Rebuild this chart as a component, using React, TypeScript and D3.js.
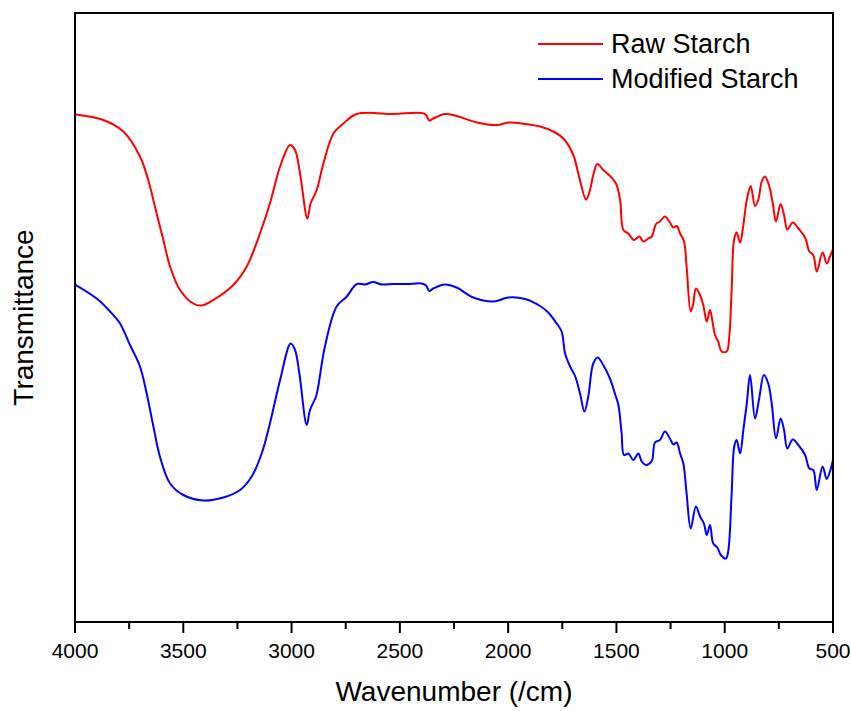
import React from "react";
import * as d3 from "d3";

// Wavenumber (cm^-1) and transmittance (a.u.)
const rawWavenumber = [4000, 3869, 3777, 3700, 3662, 3623, 3592, 3561, 3515, 3454, 3415, 3361, 3269, 3207, 3146, 3100, 3053, 3007, 2984, 2961, 2927, 2912, 2884, 2853, 2807, 2761, 2699, 2530, 2384, 2364, 2346, 2292, 2238, 2145, 2053, 1995, 1922, 1853, 1792, 1745, 1699, 1676, 1640, 1622, 1607, 1588, 1561, 1530, 1502, 1483, 1468, 1445, 1419, 1394, 1376, 1353, 1337, 1317, 1299, 1276, 1253, 1237, 1222, 1206, 1188, 1176, 1157, 1145, 1133, 1117, 1099, 1083, 1068, 1055, 1045, 1030, 1014, 991, 979, 968, 957, 945, 929, 914, 898, 880, 860, 845, 829, 814, 794, 778, 763, 742, 726, 711, 686, 660, 629, 609, 591, 575, 548, 529, 514, 500];
const rawStarch = [101.5, 100.4, 98.1, 93.1, 88.4, 81.7, 76.4, 71.1, 66.4, 63.7, 63.3, 64.4, 67.4, 71.1, 77.7, 83.7, 91.1, 95.4, 94.4, 89.7, 80.7, 83.7, 86.4, 91.7, 97.7, 99.7, 101.6, 101.6, 101.6, 100.3, 100.7, 101.6, 101.2, 99.9, 99.4, 99.9, 99.6, 99.1, 98.1, 96.7, 93.4, 89.7, 84.5, 86.4, 89.4, 91.6, 90.4, 89.2, 87.7, 84.4, 78.4, 77.7, 76.4, 77.1, 76.1, 76.7, 77.1, 79.6, 80.1, 81.1, 79.9, 78.9, 79.2, 77.7, 76.1, 71.1, 62.1, 63.7, 66.7, 65.7, 63.4, 60.1, 62.4, 59.7, 57.4, 56.1, 54.1, 54.1, 57.1, 66.4, 76.4, 77.9, 75.9, 79.4, 84.4, 87.2, 83.2, 84.4, 88.1, 89.1, 87.1, 83.7, 80.1, 83.6, 81.4, 78.5, 79.9, 78.7, 76.9, 74.1, 73.4, 70.1, 73.9, 71.7, 73.1, 74.5];

const modWavenumber = [4000, 3900, 3838, 3792, 3746, 3700, 3669, 3638, 3608, 3561, 3500, 3408, 3315, 3238, 3184, 3138, 3100, 3053, 3004, 2984, 2964, 2930, 2915, 2887, 2877, 2846, 2792, 2745, 2699, 2661, 2623, 2584, 2530, 2468, 2399, 2379, 2364, 2346, 2292, 2238, 2161, 2068, 1999, 1922, 1853, 1815, 1776, 1753, 1737, 1714, 1691, 1668, 1648, 1630, 1607, 1586, 1561, 1530, 1507, 1491, 1476, 1465, 1445, 1422, 1399, 1383, 1364, 1337, 1322, 1299, 1276, 1253, 1237, 1222, 1206, 1191, 1176, 1157, 1133, 1114, 1096, 1083, 1068, 1053, 1034, 1018, 994, 983, 968, 956, 945, 929, 914, 898, 883, 860, 842, 819, 799, 783, 763, 742, 726, 711, 686, 660, 629, 609, 591, 575, 548, 529, 514, 500];
const modifiedStarch = [67.5, 64.7, 62.1, 59.7, 55.4, 51.1, 45.7, 39.1, 33.1, 27.7, 25.4, 24.3, 24.9, 26.4, 29.1, 33.7, 39.7, 48.4, 55.7, 54.4, 49.7, 39.4, 42.4, 45.1, 47.1, 55.1, 63.1, 65.1, 67.6, 67.5, 68.0, 67.5, 67.6, 67.6, 67.7, 67.3, 66.2, 66.7, 67.5, 66.9, 64.9, 64.1, 64.9, 64.6, 63.2, 61.9, 59.7, 58.1, 53.7, 51.1, 49.2, 45.7, 42.1, 45.1, 51.7, 52.9, 51.4, 48.7, 45.7, 43.4, 37.7, 33.4, 33.7, 32.4, 33.7, 32.1, 31.4, 32.2, 35.9, 36.4, 38.1, 36.7, 35.5, 35.9, 33.7, 31.7, 25.7, 18.7, 23.1, 21.1, 19.7, 17.4, 19.4, 15.7, 14.9, 13.4, 12.7, 14.4, 25.7, 35.1, 36.4, 33.7, 38.4, 43.7, 49.4, 40.7, 44.4, 49.4, 47.7, 43.7, 36.7, 40.7, 38.4, 34.7, 36.5, 35.4, 33.4, 30.7, 30.4, 26.4, 31.1, 28.6, 30.1, 32.4];

const xTicks = [4000, 3500, 3000, 2500, 2000, 1500, 1000, 500];
const xMinorTicks = [3750, 3250, 2750, 2250, 1750, 1250, 750];
const seriesNames = ["Raw Starch", "Modified Starch"];
const seriesColors = ["#ff0000", "#0000ff"];

const W = 851;
const H = 711;
const left = 75;
const right = 833;
const top = 13;
const bottom = 622;
const FONT = "'Liberation Sans', Arial, sans-serif";

export default function App() {
  const x = d3.scaleLinear().domain([4000, 500]).range([left, right]);
  const y = d3.scaleLinear().domain([0, 121.8]).range([bottom, top]);

  const line = d3
    .line<[number, number]>()
    .x((d) => x(d[0]))
    .y((d) => y(d[1]))
    .curve(d3.curveCatmullRom.alpha(0.5));

  const series: [number, number][][] = [
    rawWavenumber.map((w, i) => [w, rawStarch[i]] as [number, number]),
    modWavenumber.map((w, i) => [w, modifiedStarch[i]] as [number, number]),
  ];

  return (
    <svg
      width={W}
      height={H}
      style={{ position: "absolute", left: 0, top: 0, background: "#fff" }}
      fontFamily={FONT}
    >
      <rect x={0} y={0} width={W} height={H} fill="#fff" />
      <defs>
        <clipPath id="plotClip">
          <rect x={left} y={top} width={right - left} height={bottom - top} />
        </clipPath>
      </defs>
      <g clipPath="url(#plotClip)">
        {series.map((s, i) => (
          <path
            key={i}
            d={line(s) || ""}
            fill="none"
            stroke={seriesColors[i]}
            strokeWidth={2}
            strokeLinejoin="round"
          />
        ))}
      </g>
      {/* frame */}
      <rect
        x={left}
        y={top}
        width={right - left}
        height={bottom - top}
        fill="none"
        stroke="#000"
        strokeWidth={2}
      />
      {/* x ticks */}
      {xTicks.map((t) => (
        <g key={t}>
          <line x1={x(t)} x2={x(t)} y1={bottom} y2={bottom + 11} stroke="#000" strokeWidth={2} />
          <text x={x(t)} y={658} fontSize={21} textAnchor="middle" fill="#000">
            {t}
          </text>
        </g>
      ))}
      {xMinorTicks.map((t) => (
        <line key={t} x1={x(t)} x2={x(t)} y1={bottom} y2={bottom + 7} stroke="#000" strokeWidth={2} />
      ))}
      <text x={(left + right) / 2} y={701} fontSize={28} textAnchor="middle" fill="#000">
        Wavenumber (/cm)
      </text>
      <text
        transform={`translate(33, ${(top + bottom) / 2}) rotate(-90)`}
        fontSize={28}
        textAnchor="middle"
        fill="#000"
      >
        Transmittance
      </text>
      {/* legend */}
      {seriesNames.map((n, i) => (
        <g key={n} transform={`translate(0, ${i * 35})`}>
          <line x1={538} x2={603} y1={44} y2={44} stroke={seriesColors[i]} strokeWidth={2} />
          <text x={611} y={53} fontSize={27} fill="#000">
            {n}
          </text>
        </g>
      ))}
    </svg>
  );
}
